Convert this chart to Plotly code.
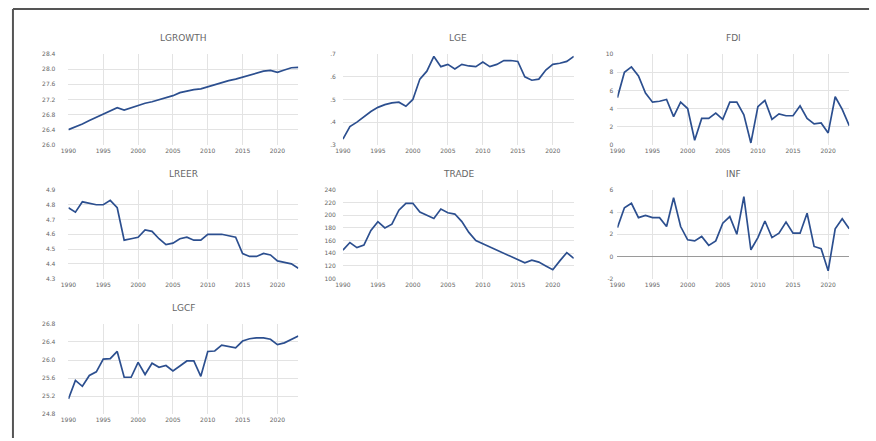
import plotly.graph_objects as go

years = list(range(1990, 2024))

lgrowth = [26.40, 26.47, 26.55, 26.64, 26.73, 26.81, 26.90, 26.98, 26.92, 26.98,
           27.05, 27.10, 27.14, 27.19, 27.24, 27.30, 27.38, 27.43, 27.46, 27.48,
           27.54, 27.60, 27.65, 27.70, 27.74, 27.79, 27.85, 27.90, 27.95, 27.97,
           27.92, 27.98, 28.04, 28.05]
lge = [0.325, 0.38, 0.40, 0.425, 0.447, 0.465, 0.477, 0.485, 0.488, 0.47,
       0.50, 0.59, 0.625, 0.69, 0.645, 0.655, 0.635, 0.655, 0.648, 0.645,
       0.665, 0.645, 0.655, 0.672, 0.672, 0.668, 0.60, 0.585, 0.59, 0.63,
       0.655, 0.66, 0.668, 0.69]
fdi = [5.2, 8.0, 8.6, 7.6, 5.7, 4.7, 4.8, 5.0, 3.1, 4.7,
       4.0, 0.5, 2.9, 2.9, 3.5, 2.8, 4.7, 4.7, 3.3, 0.2,
       4.2, 4.9, 2.8, 3.4, 3.2, 3.2, 4.3, 2.9, 2.3, 2.4,
       1.3, 5.3, 3.9, 2.1]
lreer = [4.78, 4.75, 4.82, 4.81, 4.80, 4.80, 4.83, 4.78, 4.56, 4.57,
         4.58, 4.63, 4.62, 4.57, 4.53, 4.54, 4.57, 4.58, 4.56, 4.56,
         4.60, 4.60, 4.60, 4.59, 4.58, 4.47, 4.45, 4.45, 4.47, 4.46,
         4.42, 4.41, 4.40, 4.37]
trade = [145, 157, 149, 153, 176, 190, 180, 186, 208, 219,
         219, 205, 200, 195, 210, 204, 202, 190, 173, 160,
         155, 150, 145, 140, 135, 130, 125, 129, 126, 120,
         114, 128, 141, 132]
inf = [2.6, 4.4, 4.8, 3.5, 3.7, 3.5, 3.5, 2.7, 5.3, 2.7,
       1.5, 1.4, 1.8, 1.0, 1.4, 3.0, 3.6, 2.0, 5.4, 0.6,
       1.7, 3.2, 1.7, 2.1, 3.1, 2.1, 2.1, 3.9, 0.9, 0.7,
       -1.3, 2.5, 3.4, 2.5]
lgcf = [25.14, 25.55, 25.42, 25.66, 25.74, 26.02, 26.03, 26.19, 25.62, 25.62,
        25.95, 25.68, 25.93, 25.84, 25.88, 25.76, 25.87, 25.98, 25.98, 25.64,
        26.19, 26.20, 26.33, 26.30, 26.27, 26.42, 26.47, 26.49, 26.49, 26.46,
        26.34, 26.38, 26.46, 26.53]

x_ticks = [1990, 1995, 2000, 2005, 2010, 2015, 2020]

panels = [
    ("LGROWTH", lgrowth, [26.0, 26.4, 26.8, 27.2, 27.6, 28.0, 28.4],
     ["26.0", "26.4", "26.8", "27.2", "27.6", "28.0", "28.4"]),
    ("LGE", lge, [0.3, 0.4, 0.5, 0.6, 0.7], [".3", ".4", ".5", ".6", ".7"]),
    ("FDI", fdi, [0, 2, 4, 6, 8, 10], ["0", "2", "4", "6", "8", "10"]),
    ("LREER", lreer, [4.3, 4.4, 4.5, 4.6, 4.7, 4.8, 4.9],
     ["4.3", "4.4", "4.5", "4.6", "4.7", "4.8", "4.9"]),
    ("TRADE", trade, [100, 120, 140, 160, 180, 200, 220, 240],
     ["100", "120", "140", "160", "180", "200", "220", "240"]),
    ("INF", inf, [-2, 0, 2, 4, 6], ["-2", "0", "2", "4", "6"]),
    ("LGCF", lgcf, [24.8, 25.2, 25.6, 26.0, 26.4, 26.8],
     ["24.8", "25.2", "25.6", "26.0", "26.4", "26.8"]),
]

W, H = 876, 441
cols = [(61, 293), (338, 571), (615, 849)]
rows = [(51, 143), (189, 279), (325, 417)]
standoff = [12, 6, 3]

fig = go.Figure()
layout = dict(
    width=W, height=H, margin=dict(l=0, r=0, t=0, b=0),
    paper_bgcolor="white", plot_bgcolor="white", showlegend=False,
    font=dict(family="DejaVu Sans", size=6, color="#666666"),
)
annotations = []
for i, (name, vals, yt, ytl) in enumerate(panels):
    r, c = divmod(i, 3)
    x0, x1 = cols[c]
    y0, y1 = rows[r]
    n = i + 1
    xa = "x" if n == 1 else f"x{n}"
    ya = "y" if n == 1 else f"y{n}"
    fig.add_trace(go.Scatter(x=years, y=vals, mode="lines", xaxis=xa, yaxis=ya,
                             line=dict(color="#2c4f8f", width=1.7)))
    layout[f"xaxis{n}"] = dict(
        domain=[x0 / W, x1 / W], anchor=ya, range=[1990, 2023],
        tickvals=x_ticks, ticktext=[str(t) for t in x_ticks],
        showgrid=True, gridcolor="#e3e3e3", gridwidth=1, zeroline=False,
        showline=False, ticks="", ticklabelstandoff=1,
        tickfont=dict(size=6, color="#666666"))
    layout[f"yaxis{n}"] = dict(
        domain=[1 - y1 / H, 1 - y0 / H], anchor=xa, range=[yt[0], yt[-1]],
        tickvals=yt, ticktext=ytl,
        showgrid=True, gridcolor="#e3e3e3", gridwidth=1,
        zeroline=(name == "INF"), zerolinecolor="#9a9a9a", zerolinewidth=1.3,
        showline=False, ticks="", ticklabelstandoff=standoff[c],
        tickfont=dict(size=6, color="#666666"))
    annotations.append(dict(
        text=name, x=(x0 + x1) / 2 / W, y=1 - (y0 - 16) / H, xref="paper",
        yref="paper", showarrow=False, xanchor="center", yanchor="middle",
        font=dict(size=9, color="#666666")))

layout["annotations"] = annotations
layout["shapes"] = [
    dict(type="line", xref="paper", yref="paper", x0=5 / W, x1=869 / W,
         y0=1 - 5 / H, y1=1 - 5 / H, line=dict(color="#555555", width=2)),
    dict(type="line", xref="paper", yref="paper", x0=5 / W, x1=5 / W,
         y0=1 - 5 / H, y1=0, line=dict(color="#555555", width=2)),
]
fig.update_layout(**layout)
fig.write_html(
    "out.html",
    config={"displayModeBar": False},
    post_script=(
        "document.documentElement.style.margin='0';"
        "document.body.style.margin='0';"
        "document.body.style.overflow='hidden';"
        "var gd=document.getElementById('{plot_id}');"
        "gd.style.position='absolute';gd.style.left='0px';gd.style.top='0px';"
    ),
)
